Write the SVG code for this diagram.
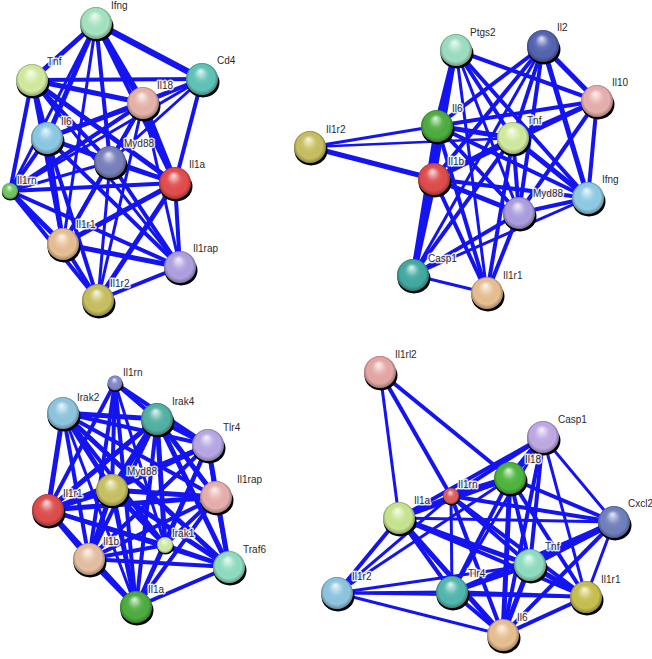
<svg xmlns="http://www.w3.org/2000/svg" width="652" height="659" viewBox="0 0 652 659">
<defs>
<radialGradient id="ball" cx="0.5" cy="0.5" r="0.5" fx="0.45" fy="0.25">
<stop offset="0" stop-color="#fff" stop-opacity="0.85"/>
<stop offset="0.4" stop-color="#fff" stop-opacity="0.1"/>
<stop offset="0.8" stop-color="#000" stop-opacity="0"/>
<stop offset="1" stop-color="#000" stop-opacity="0.3"/>
</radialGradient>
</defs>
<style>
.e line{stroke:#1414f0;stroke-linecap:butt}
.w2{stroke-width:2.5}.w3{stroke-width:3}.w4{stroke-width:4}.w5{stroke-width:5}.w6{stroke-width:6.5}
.sh{fill:#000}
.gl{fill:url(#ball)}
text{font-family:"Liberation Sans",Arial,sans-serif;font-size:10px;fill:#2a2a2a;stroke:#fff;stroke-width:3;stroke-opacity:0.85;stroke-linejoin:round;paint-order:stroke}
</style>
<rect width="652" height="659" fill="#fff"/>
<g id="connectors" class="e">
<g class="w6">
<line x1="96" y1="23" x2="202" y2="79"/><line x1="96" y1="23" x2="143" y2="103"/><line x1="143" y1="103" x2="175" y2="183"/>
<line x1="456" y1="50" x2="437" y2="126"/><line x1="437" y1="126" x2="434" y2="179"/><line x1="434" y1="179" x2="413" y2="275"/>
<line x1="157" y1="419" x2="112" y2="490"/>
<line x1="543" y1="437" x2="510" y2="478"/><line x1="614" y1="522" x2="530" y2="565"/><line x1="510" y1="478" x2="451" y2="496"/>
</g>
<g class="w5">
<line x1="96" y1="23" x2="32" y2="80"/><line x1="96" y1="23" x2="47" y2="138"/><line x1="32" y1="80" x2="143" y2="103"/><line x1="32" y1="80" x2="47" y2="138"/><line x1="32" y1="80" x2="175" y2="183"/><line x1="143" y1="103" x2="47" y2="138"/><line x1="47" y1="138" x2="63" y2="244"/><line x1="175" y1="183" x2="63" y2="244"/><line x1="175" y1="183" x2="98" y2="300"/><line x1="10" y1="191" x2="63" y2="244"/><line x1="63" y1="244" x2="180" y2="267"/>
<line x1="310" y1="147" x2="434" y2="179"/><line x1="543" y1="46" x2="597" y2="101"/><line x1="543" y1="46" x2="588" y2="198"/><line x1="597" y1="101" x2="513" y2="138"/><line x1="437" y1="126" x2="513" y2="138"/><line x1="437" y1="126" x2="413" y2="275"/><line x1="513" y1="138" x2="434" y2="179"/><line x1="513" y1="138" x2="588" y2="198"/><line x1="434" y1="179" x2="519" y2="213"/>
<line x1="63" y1="413" x2="157" y2="419"/><line x1="63" y1="413" x2="112" y2="490"/><line x1="63" y1="413" x2="48" y2="510"/><line x1="63" y1="413" x2="229" y2="567"/><line x1="157" y1="419" x2="208" y2="445"/><line x1="157" y1="419" x2="216" y2="497"/><line x1="157" y1="419" x2="48" y2="510"/><line x1="157" y1="419" x2="165" y2="545"/><line x1="157" y1="419" x2="229" y2="567"/><line x1="208" y1="445" x2="112" y2="490"/><line x1="208" y1="445" x2="229" y2="567"/><line x1="112" y1="490" x2="216" y2="497"/><line x1="112" y1="490" x2="48" y2="510"/><line x1="112" y1="490" x2="165" y2="545"/><line x1="112" y1="490" x2="89" y2="559"/><line x1="112" y1="490" x2="229" y2="567"/><line x1="112" y1="490" x2="136" y2="607"/><line x1="216" y1="497" x2="48" y2="510"/><line x1="48" y1="510" x2="89" y2="559"/><line x1="48" y1="510" x2="136" y2="607"/><line x1="89" y1="559" x2="136" y2="607"/>
<line x1="510" y1="478" x2="503" y2="635"/><line x1="399" y1="518" x2="530" y2="565"/><line x1="399" y1="518" x2="503" y2="635"/><line x1="530" y1="565" x2="452" y2="592"/><line x1="530" y1="565" x2="503" y2="635"/><line x1="530" y1="565" x2="586" y2="597"/><line x1="510" y1="478" x2="399" y2="518"/>
</g>
<g class="w4">
<line x1="96" y1="23" x2="110" y2="162"/><line x1="96" y1="23" x2="175" y2="183"/><line x1="32" y1="80" x2="110" y2="162"/><line x1="32" y1="80" x2="10" y2="191"/><line x1="32" y1="80" x2="63" y2="244"/><line x1="32" y1="80" x2="202" y2="79"/><line x1="202" y1="79" x2="143" y2="103"/><line x1="202" y1="79" x2="47" y2="138"/><line x1="202" y1="79" x2="175" y2="183"/><line x1="143" y1="103" x2="110" y2="162"/><line x1="143" y1="103" x2="10" y2="191"/><line x1="143" y1="103" x2="63" y2="244"/><line x1="47" y1="138" x2="110" y2="162"/><line x1="47" y1="138" x2="175" y2="183"/><line x1="47" y1="138" x2="10" y2="191"/><line x1="47" y1="138" x2="180" y2="267"/><line x1="47" y1="138" x2="98" y2="300"/><line x1="110" y1="162" x2="175" y2="183"/><line x1="110" y1="162" x2="63" y2="244"/><line x1="110" y1="162" x2="180" y2="267"/><line x1="175" y1="183" x2="10" y2="191"/><line x1="175" y1="183" x2="180" y2="267"/><line x1="10" y1="191" x2="180" y2="267"/><line x1="10" y1="191" x2="98" y2="300"/><line x1="63" y1="244" x2="98" y2="300"/><line x1="180" y1="267" x2="98" y2="300"/>
<line x1="456" y1="50" x2="434" y2="179"/><line x1="456" y1="50" x2="513" y2="138"/><line x1="456" y1="50" x2="597" y2="101"/><line x1="456" y1="50" x2="588" y2="198"/><line x1="543" y1="46" x2="437" y2="126"/><line x1="543" y1="46" x2="434" y2="179"/><line x1="543" y1="46" x2="513" y2="138"/><line x1="543" y1="46" x2="519" y2="213"/><line x1="597" y1="101" x2="437" y2="126"/><line x1="597" y1="101" x2="434" y2="179"/><line x1="597" y1="101" x2="588" y2="198"/><line x1="597" y1="101" x2="519" y2="213"/><line x1="437" y1="126" x2="588" y2="198"/><line x1="437" y1="126" x2="519" y2="213"/><line x1="437" y1="126" x2="487" y2="293"/><line x1="513" y1="138" x2="519" y2="213"/><line x1="513" y1="138" x2="413" y2="275"/><line x1="513" y1="138" x2="487" y2="293"/><line x1="434" y1="179" x2="588" y2="198"/><line x1="434" y1="179" x2="487" y2="293"/><line x1="588" y1="198" x2="519" y2="213"/><line x1="519" y1="213" x2="413" y2="275"/><line x1="519" y1="213" x2="487" y2="293"/>
<line x1="115" y1="383" x2="157" y2="419"/><line x1="115" y1="383" x2="208" y2="445"/><line x1="115" y1="383" x2="112" y2="490"/><line x1="115" y1="383" x2="48" y2="510"/><line x1="115" y1="383" x2="89" y2="559"/><line x1="115" y1="383" x2="136" y2="607"/><line x1="63" y1="413" x2="208" y2="445"/><line x1="63" y1="413" x2="216" y2="497"/><line x1="63" y1="413" x2="165" y2="545"/><line x1="63" y1="413" x2="89" y2="559"/><line x1="157" y1="419" x2="89" y2="559"/><line x1="157" y1="419" x2="136" y2="607"/><line x1="208" y1="445" x2="216" y2="497"/><line x1="208" y1="445" x2="48" y2="510"/><line x1="208" y1="445" x2="165" y2="545"/><line x1="208" y1="445" x2="89" y2="559"/><line x1="208" y1="445" x2="136" y2="607"/><line x1="216" y1="497" x2="165" y2="545"/><line x1="216" y1="497" x2="89" y2="559"/><line x1="216" y1="497" x2="229" y2="567"/><line x1="216" y1="497" x2="136" y2="607"/><line x1="48" y1="510" x2="165" y2="545"/><line x1="48" y1="510" x2="229" y2="567"/><line x1="165" y1="545" x2="89" y2="559"/><line x1="165" y1="545" x2="229" y2="567"/><line x1="165" y1="545" x2="136" y2="607"/><line x1="89" y1="559" x2="229" y2="567"/><line x1="229" y1="567" x2="136" y2="607"/>
<line x1="380" y1="372" x2="451" y2="496"/><line x1="380" y1="372" x2="510" y2="478"/><line x1="543" y1="437" x2="451" y2="496"/><line x1="543" y1="437" x2="399" y2="518"/><line x1="543" y1="437" x2="530" y2="565"/><line x1="543" y1="437" x2="503" y2="635"/><line x1="510" y1="478" x2="530" y2="565"/><line x1="510" y1="478" x2="452" y2="592"/><line x1="510" y1="478" x2="586" y2="597"/><line x1="510" y1="478" x2="614" y2="522"/><line x1="451" y1="496" x2="399" y2="518"/><line x1="451" y1="496" x2="530" y2="565"/><line x1="451" y1="496" x2="503" y2="635"/><line x1="451" y1="496" x2="586" y2="597"/><line x1="451" y1="496" x2="614" y2="522"/><line x1="399" y1="518" x2="452" y2="592"/><line x1="399" y1="518" x2="586" y2="597"/><line x1="399" y1="518" x2="337" y2="593"/><line x1="614" y1="522" x2="452" y2="592"/><line x1="614" y1="522" x2="503" y2="635"/><line x1="452" y1="592" x2="503" y2="635"/><line x1="452" y1="592" x2="586" y2="597"/><line x1="586" y1="597" x2="503" y2="635"/>
</g>
<g class="w3">
<line x1="96" y1="23" x2="10" y2="191"/><line x1="96" y1="23" x2="63" y2="244"/><line x1="32" y1="80" x2="180" y2="267"/><line x1="202" y1="79" x2="110" y2="162"/><line x1="202" y1="79" x2="10" y2="191"/><line x1="143" y1="103" x2="180" y2="267"/><line x1="143" y1="103" x2="98" y2="300"/><line x1="110" y1="162" x2="10" y2="191"/><line x1="110" y1="162" x2="98" y2="300"/>
<line x1="310" y1="147" x2="437" y2="126"/><line x1="456" y1="50" x2="519" y2="213"/><line x1="456" y1="50" x2="487" y2="293"/><line x1="543" y1="46" x2="413" y2="275"/><line x1="588" y1="198" x2="413" y2="275"/><line x1="413" y1="275" x2="487" y2="293"/>
<line x1="115" y1="383" x2="165" y2="545"/><line x1="63" y1="413" x2="136" y2="607"/>
<line x1="380" y1="372" x2="399" y2="518"/><line x1="543" y1="437" x2="586" y2="597"/><line x1="543" y1="437" x2="614" y2="522"/><line x1="543" y1="437" x2="452" y2="592"/><line x1="510" y1="478" x2="337" y2="593"/><line x1="451" y1="496" x2="452" y2="592"/><line x1="451" y1="496" x2="337" y2="593"/><line x1="399" y1="518" x2="614" y2="522"/><line x1="614" y1="522" x2="586" y2="597"/><line x1="530" y1="565" x2="337" y2="593"/><line x1="337" y1="593" x2="452" y2="592"/><line x1="337" y1="593" x2="503" y2="635"/>
</g>
<g class="w2">
<line x1="310" y1="147" x2="513" y2="138"/><line x1="337" y1="593" x2="586" y2="597"/>
</g>
</g>

<!-- Panel 1 -->
<g id="p1-ifng"><ellipse class="sh" cx="97" cy="26.5" rx="16.5" ry="15"/><circle cx="96" cy="23" r="16" fill="#a6e4c2"/><circle class="gl" cx="96" cy="23" r="16"/><text x="111" y="9">Ifng</text></g>
<g id="p1-tnf"><ellipse class="sh" cx="33" cy="83.5" rx="16.5" ry="15"/><circle cx="32" cy="80" r="16" fill="#d2eca0"/><circle class="gl" cx="32" cy="80" r="16"/><text x="47" y="65">Tnf</text></g>
<g id="p1-cd4"><ellipse class="sh" cx="203" cy="82.5" rx="16.5" ry="15"/><circle cx="202" cy="79" r="16" fill="#5fc4b8"/><circle class="gl" cx="202" cy="79" r="16"/><text x="217" y="64">Cd4</text></g>
<g id="p1-il18"><ellipse class="sh" cx="144" cy="106.5" rx="16.5" ry="15"/><circle cx="143" cy="103" r="16" fill="#e6b4aa"/><circle class="gl" cx="143" cy="103" r="16"/><text x="157" y="89">Il18</text></g>
<g id="p1-il6"><ellipse class="sh" cx="48" cy="141.5" rx="16.5" ry="15"/><circle cx="47" cy="138" r="16" fill="#8ccae6"/><circle class="gl" cx="47" cy="138" r="16"/><text x="61" y="125">Il6</text></g>
<g id="p1-myd88"><ellipse class="sh" cx="111" cy="165.5" rx="16.5" ry="15"/><circle cx="110" cy="162" r="16" fill="#7880bc"/><circle class="gl" cx="110" cy="162" r="16"/><text x="124" y="147">Myd88</text></g>
<g id="p1-il1a"><ellipse class="sh" cx="176" cy="186.5" rx="16.5" ry="15"/><circle cx="175" cy="183" r="16" fill="#e44c4c"/><circle class="gl" cx="175" cy="183" r="16"/><text x="189" y="168">Il1a</text></g>
<g id="p1-il1rn"><ellipse class="sh" cx="10.5" cy="193" rx="8.5" ry="7.5"/><circle cx="10" cy="191" r="8" fill="#6ec85e"/><circle class="gl" cx="10" cy="191" r="8"/><text x="17" y="184">Il1rn</text></g>
<g id="p1-il1r1"><ellipse class="sh" cx="64" cy="247.5" rx="16.5" ry="15"/><circle cx="63" cy="244" r="16" fill="#e8c092"/><circle class="gl" cx="63" cy="244" r="16"/><text x="76" y="228">Il1r1</text></g>
<g id="p1-il1rap"><ellipse class="sh" cx="181" cy="270.5" rx="16.5" ry="15"/><circle cx="180" cy="267" r="16" fill="#b0a0e0"/><circle class="gl" cx="180" cy="267" r="16"/><text x="193" y="252">Il1rap</text></g>
<g id="p1-il1r2"><ellipse class="sh" cx="99" cy="303.5" rx="16.5" ry="15"/><circle cx="98" cy="300" r="16" fill="#c8c060"/><circle class="gl" cx="98" cy="300" r="16"/><text x="110" y="287">Il1r2</text></g>

<!-- Panel 2 -->
<g id="p2-ptgs2"><ellipse class="sh" cx="457" cy="53.5" rx="16.5" ry="15"/><circle cx="456" cy="50" r="16" fill="#9edfc2"/><circle class="gl" cx="456" cy="50" r="16"/><text x="470" y="36">Ptgs2</text></g>
<g id="p2-il2"><ellipse class="sh" cx="544" cy="49.5" rx="16.5" ry="15"/><circle cx="543" cy="46" r="16" fill="#5464b2"/><circle class="gl" cx="543" cy="46" r="16"/><text x="557" y="31">Il2</text></g>
<g id="p2-il10"><ellipse class="sh" cx="598" cy="104.5" rx="16.5" ry="15"/><circle cx="597" cy="101" r="16" fill="#e8b0ae"/><circle class="gl" cx="597" cy="101" r="16"/><text x="612" y="86">Il10</text></g>
<g id="p2-il6"><ellipse class="sh" cx="438" cy="129.5" rx="16.5" ry="15"/><circle cx="437" cy="126" r="16" fill="#4cae3e"/><circle class="gl" cx="437" cy="126" r="16"/><text x="452" y="112">Il6</text></g>
<g id="p2-tnf"><ellipse class="sh" cx="514" cy="141.5" rx="16.5" ry="15"/><circle cx="513" cy="138" r="16" fill="#d2eca0"/><circle class="gl" cx="513" cy="138" r="16"/><text x="527" y="124">Tnf</text></g>
<g id="p2-il1r2"><ellipse class="sh" cx="311" cy="150.5" rx="16.5" ry="15"/><circle cx="310" cy="147" r="16" fill="#c8c060"/><circle class="gl" cx="310" cy="147" r="16"/><text x="326" y="133">Il1r2</text></g>
<g id="p2-il1b"><ellipse class="sh" cx="435" cy="182.5" rx="16.5" ry="15"/><circle cx="434" cy="179" r="16" fill="#e04c4c"/><circle class="gl" cx="434" cy="179" r="16"/><text x="448" y="165">Il1b</text></g>
<g id="p2-ifng"><ellipse class="sh" cx="589" cy="201.5" rx="16.5" ry="15"/><circle cx="588" cy="198" r="16" fill="#90cce6"/><circle class="gl" cx="588" cy="198" r="16"/><text x="602" y="183">Ifng</text></g>
<g id="p2-myd88"><ellipse class="sh" cx="520" cy="216.5" rx="16.5" ry="15"/><circle cx="519" cy="213" r="16" fill="#ac9ee0"/><circle class="gl" cx="519" cy="213" r="16"/><text x="533" y="197">Myd88</text></g>
<g id="p2-casp1"><ellipse class="sh" cx="414" cy="278.5" rx="16.5" ry="15"/><circle cx="413" cy="275" r="16" fill="#42aaa2"/><circle class="gl" cx="413" cy="275" r="16"/><text x="428" y="262">Casp1</text></g>
<g id="p2-il1r1"><ellipse class="sh" cx="488" cy="296.5" rx="16.5" ry="15"/><circle cx="487" cy="293" r="16" fill="#e8c092"/><circle class="gl" cx="487" cy="293" r="16"/><text x="503" y="279">Il1r1</text></g>

<!-- Panel 3 -->
<g id="p3-il1rn"><ellipse class="sh" cx="115.5" cy="385" rx="8" ry="7"/><circle cx="115" cy="383" r="7.5" fill="#8088c8"/><circle class="gl" cx="115" cy="383" r="7.5"/><text x="123" y="376">Il1rn</text></g>
<g id="p3-irak2"><ellipse class="sh" cx="64" cy="416.5" rx="16.5" ry="15"/><circle cx="63" cy="413" r="16" fill="#8ec6e0"/><circle class="gl" cx="63" cy="413" r="16"/><text x="77" y="401">Irak2</text></g>
<g id="p3-irak4"><ellipse class="sh" cx="158" cy="422.5" rx="16.5" ry="15"/><circle cx="157" cy="419" r="16" fill="#52b2a4"/><circle class="gl" cx="157" cy="419" r="16"/><text x="172" y="405">Irak4</text></g>
<g id="p3-tlr4"><ellipse class="sh" cx="209" cy="448.5" rx="16.5" ry="15"/><circle cx="208" cy="445" r="16" fill="#b8a8e6"/><circle class="gl" cx="208" cy="445" r="16"/><text x="223" y="431">Tlr4</text></g>
<g id="p3-myd88"><ellipse class="sh" cx="113" cy="493.5" rx="16.5" ry="15"/><circle cx="112" cy="490" r="16" fill="#c8c262"/><circle class="gl" cx="112" cy="490" r="16"/><text x="127" y="475">Myd88</text></g>
<g id="p3-il1rap"><ellipse class="sh" cx="217" cy="500.5" rx="16.5" ry="15"/><circle cx="216" cy="497" r="16" fill="#e8b0ae"/><circle class="gl" cx="216" cy="497" r="16"/><text x="237" y="483">Il1rap</text></g>
<g id="p3-il1r1"><ellipse class="sh" cx="49" cy="513.5" rx="16.5" ry="15"/><circle cx="48" cy="510" r="16" fill="#e04c4c"/><circle class="gl" cx="48" cy="510" r="16"/><text x="63" y="497">Il1r1</text></g>
<g id="p3-irak1"><ellipse class="sh" cx="165.5" cy="547" rx="8.5" ry="7.5"/><circle cx="165" cy="545" r="8" fill="#d0eca2"/><circle class="gl" cx="165" cy="545" r="8"/><text x="172" y="537">Irak1</text></g>
<g id="p3-il1b"><ellipse class="sh" cx="90" cy="562.5" rx="16.5" ry="15"/><circle cx="89" cy="559" r="16" fill="#e6c0a2"/><circle class="gl" cx="89" cy="559" r="16"/><text x="103" y="545">Il1b</text></g>
<g id="p3-traf6"><ellipse class="sh" cx="230" cy="570.5" rx="16.5" ry="15"/><circle cx="229" cy="567" r="16" fill="#90dec2"/><circle class="gl" cx="229" cy="567" r="16"/><text x="243" y="553">Traf6</text></g>
<g id="p3-il1a"><ellipse class="sh" cx="137" cy="610.5" rx="16.5" ry="15"/><circle cx="136" cy="607" r="16" fill="#4cae3e"/><circle class="gl" cx="136" cy="607" r="16"/><text x="148" y="593">Il1a</text></g>

<!-- Panel 4 -->
<g id="p4-il1rl2"><ellipse class="sh" cx="381" cy="375.5" rx="16.5" ry="15"/><circle cx="380" cy="372" r="16" fill="#e6a8a6"/><circle class="gl" cx="380" cy="372" r="16"/><text x="395" y="358">Il1rl2</text></g>
<g id="p4-casp1"><ellipse class="sh" cx="544" cy="440.5" rx="16.5" ry="15"/><circle cx="543" cy="437" r="16" fill="#c0aae6"/><circle class="gl" cx="543" cy="437" r="16"/><text x="558" y="423">Casp1</text></g>
<g id="p4-il18"><ellipse class="sh" cx="511" cy="481.5" rx="16.5" ry="15"/><circle cx="510" cy="478" r="16" fill="#4eb63e"/><circle class="gl" cx="510" cy="478" r="16"/><text x="525" y="463">Il18</text></g>
<g id="p4-il1rn"><ellipse class="sh" cx="451.5" cy="498" rx="8.5" ry="7.5"/><circle cx="451" cy="496" r="8" fill="#e05c5c"/><circle class="gl" cx="451" cy="496" r="8"/><text x="458" y="488">Il1rn</text></g>
<g id="p4-il1a"><ellipse class="sh" cx="400" cy="521.5" rx="16.5" ry="15"/><circle cx="399" cy="518" r="16" fill="#c8e690"/><circle class="gl" cx="399" cy="518" r="16"/><text x="414" y="504">Il1a</text></g>
<g id="p4-cxcl2"><ellipse class="sh" cx="615" cy="525.5" rx="16.5" ry="15"/><circle cx="614" cy="522" r="16" fill="#7080be"/><circle class="gl" cx="614" cy="522" r="16"/><text x="628" y="507">Cxcl2</text></g>
<g id="p4-tnf"><ellipse class="sh" cx="531" cy="568.5" rx="16.5" ry="15"/><circle cx="530" cy="565" r="16" fill="#90dec2"/><circle class="gl" cx="530" cy="565" r="16"/><text x="545" y="550">Tnf</text></g>
<g id="p4-il1r2"><ellipse class="sh" cx="338" cy="596.5" rx="16.5" ry="15"/><circle cx="337" cy="593" r="16" fill="#8ec6e0"/><circle class="gl" cx="337" cy="593" r="16"/><text x="352" y="580">Il1r2</text></g>
<g id="p4-tlr4"><ellipse class="sh" cx="453" cy="595.5" rx="16.5" ry="15"/><circle cx="452" cy="592" r="16" fill="#52b8b0"/><circle class="gl" cx="452" cy="592" r="16"/><text x="468" y="577">Tlr4</text></g>
<g id="p4-il1r1"><ellipse class="sh" cx="587" cy="600.5" rx="16.5" ry="15"/><circle cx="586" cy="597" r="16" fill="#c8c050"/><circle class="gl" cx="586" cy="597" r="16"/><text x="601" y="583">Il1r1</text></g>
<g id="p4-il6"><ellipse class="sh" cx="504" cy="638.5" rx="16.5" ry="15"/><circle cx="503" cy="635" r="16" fill="#e8c092"/><circle class="gl" cx="503" cy="635" r="16"/><text x="517" y="621">Il6</text></g>
</svg>
